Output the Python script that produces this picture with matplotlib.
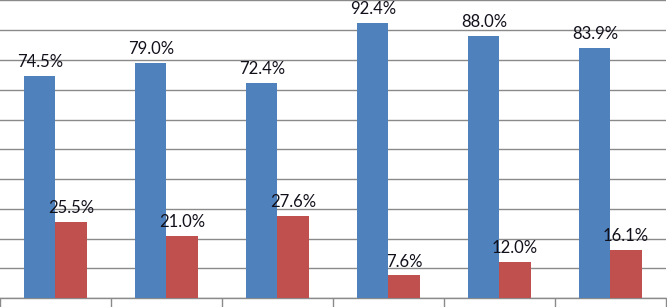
import matplotlib.pyplot as plt
import numpy as np

groups = ["1", "2", "3", "4", "5", "6"]
blue_vals = [74.5, 79.0, 72.4, 92.4, 88.0, 83.9]
red_vals = [25.5, 21.0, 27.6, 7.6, 12.0, 16.1]


def main():
    """Grouped bar chart with percentage labels."""
    fig = plt.figure(figsize=(6.67, 3.07), dpi=100)
    ax = fig.add_axes([0.0, 0.029, 0.9985, 0.9695])

    x = np.arange(len(groups))
    w = 0.28
    ax.bar(x - w / 2, blue_vals, w, color="#4F81BD", zorder=3)
    ax.bar(x + w / 2, red_vals, w, color="#C0504D", zorder=3)

    # labels sit about 9 px above each bar
    for xi, v in zip(x, blue_vals):
        ax.text(xi - w / 2, v + 3.0, f"{v:.1f}%", ha="center", va="baseline",
                fontsize=12, family="Lato", color="#11111c", zorder=4)
    for xi, v in zip(x, red_vals):
        ax.text(xi + w / 2, v + 3.0, f"{v:.1f}%", ha="center", va="baseline",
                fontsize=12, family="Lato", color="#11111c", zorder=4)

    ax.set_ylim(0, 100)
    ax.set_xlim(-0.5, 5.5)
    ax.set_yticks(np.arange(0, 101, 10))
    ax.yaxis.grid(True, color="#8a8a8a", linewidth=1.0, zorder=0)
    ax.tick_params(axis="y", left=False, labelleft=False)

    # tick marks between the groups
    ax.set_xticks(np.arange(-0.5, 6.0, 1.0))
    ax.tick_params(axis="x", direction="out", length=8, color="#8a8a8a",
                   width=1.0, labelbottom=False)

    for side in ["left", "right", "top"]:
        ax.spines[side].set_visible(False)
    ax.spines["bottom"].set_color("#8a8a8a")
    ax.spines["bottom"].set_linewidth(1.0)

    fig.savefig("out.png", dpi=100)


if __name__ == "__main__":
    main()
